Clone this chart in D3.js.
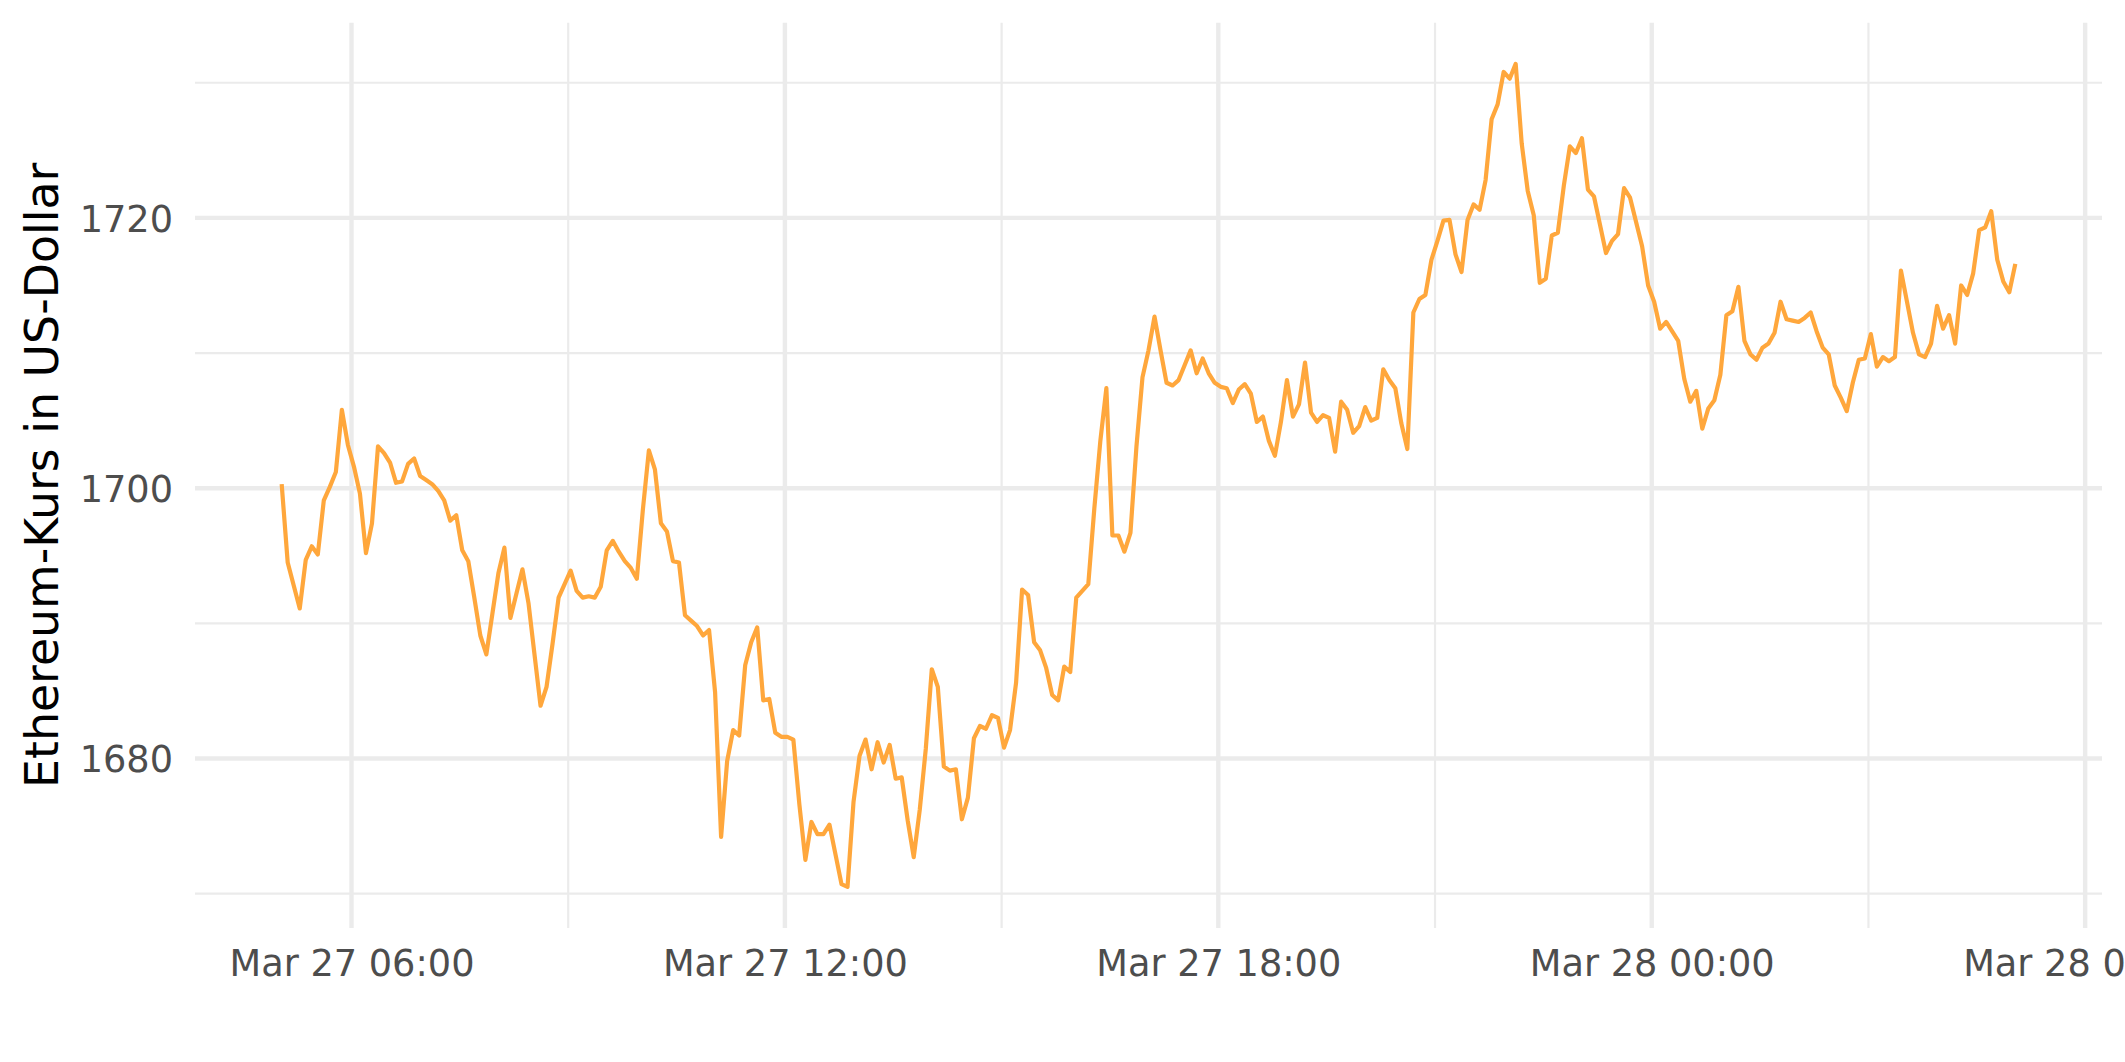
<!DOCTYPE html>
<html><head><meta charset="utf-8">
<script src="https://cdn.jsdelivr.net/npm/d3@7"></script>
<style>body{margin:0;background:#fff}svg{display:block}</style>
</head><body><svg id="chart" width="2125" height="1062"></svg>
<script>
// ---- data ----
const startTime = new Date(2023, 2, 27, 5, 2);
const intervalMinutes = 5;
const prices = [
1700.3,1694.5,1692.8,1691.1,1694.7,1695.7,1695.1,1699.1,1700.1,1701.2,
1705.8,1703.2,1701.6,1699.6,1695.2,1697.4,1703.1,1702.6,1701.9,1700.4,
1700.5,1701.8,1702.2,1700.9,1700.6,1700.3,1699.8,1699.1,1697.6,1698.0,
1695.4,1694.6,1691.9,1689.1,1687.7,1690.7,1693.7,1695.6,1690.4,1692.2,
1694.0,1691.5,1687.7,1683.9,1685.3,1688.5,1691.9,1692.9,1693.9,1692.4,
1691.9,1692.0,1691.9,1692.7,1695.4,1696.1,1695.3,1694.6,1694.1,1693.3,
1698.4,1702.8,1701.4,1697.4,1696.8,1694.6,1694.5,1690.6,1690.2,1689.8,
1689.1,1689.5,1684.9,1674.2,1679.8,1682.1,1681.7,1686.9,1688.6,1689.7,
1684.3,1684.4,1681.9,1681.6,1681.6,1681.4,1676.6,1672.5,1675.3,1674.4,
1674.4,1675.1,1672.9,1670.7,1670.5,1676.8,1680.2,1681.4,1679.2,1681.2,
1679.7,1681.0,1678.5,1678.6,1675.4,1672.7,1676.2,1680.7,1686.6,1685.3,
1679.4,1679.1,1679.2,1675.5,1677.1,1681.5,1682.4,1682.2,1683.2,1683.0,
1680.8,1682.1,1685.6,1692.5,1692.1,1688.6,1688.0,1686.7,1684.7,1684.3,
1686.8,1686.4,1691.9,1692.4,1692.9,1698.5,1703.5,1707.4,1696.5,1696.5,
1695.3,1696.7,1703.1,1708.2,1710.2,1712.7,1710.2,1707.8,1707.6,1708.0,
1709.1,1710.2,1708.5,1709.6,1708.5,1707.8,1707.5,1707.4,1706.3,1707.3,
1707.7,1707.0,1704.9,1705.3,1703.5,1702.4,1704.9,1708.0,1705.3,1706.2,
1709.3,1705.6,1704.9,1705.4,1705.2,1702.7,1706.4,1705.8,1704.1,1704.6,
1706.0,1705.0,1705.2,1708.8,1708.0,1707.4,1704.8,1702.9,1713.0,1714.0,
1714.3,1716.9,1718.3,1719.8,1719.85,1717.3,1716.0,1719.85,1721.0,1720.6,
1722.8,1727.3,1728.4,1730.8,1730.3,1731.4,1725.5,1722.0,1720.2,1715.2,
1715.5,1718.7,1718.9,1722.4,1725.3,1724.8,1725.9,1722.1,1721.6,1719.5,
1717.4,1718.3,1718.8,1722.2,1721.5,1719.7,1717.9,1715.0,1713.8,1711.8,
1712.3,1711.6,1710.9,1708.1,1706.4,1707.2,1704.4,1705.9,1706.5,1708.4,
1712.8,1713.1,1714.9,1710.9,1709.9,1709.5,1710.4,1710.7,1711.5,1713.8,
1712.5,1712.4,1712.3,1712.6,1713.0,1711.6,1710.4,1709.9,1707.6,1706.7,
1705.7,1707.8,1709.5,1709.6,1711.4,1709.0,1709.7,1709.4,1709.7,1716.1,
1713.8,1711.5,1709.9,1709.7,1710.7,1713.5,1711.8,1712.8,1710.7,1715.0,
1714.3,1715.9,1719.1,1719.3,1720.5,1716.9,1715.3,1714.5,1716.6
];
const yMajorTicks = [1680, 1700, 1720];
const yMinorTicks = [1670, 1690, 1710, 1730];
const xMajorTicks = [new Date(2023,2,27,6), new Date(2023,2,27,12), new Date(2023,2,27,18), new Date(2023,2,28,0), new Date(2023,2,28,6)];
const xMinorTicks = [new Date(2023,2,27,9), new Date(2023,2,27,15), new Date(2023,2,27,21), new Date(2023,2,28,3)];
const yTitle = "Ethereum-Kurs in US-Dollar";

// ---- layout ----
const W = 2125, H = 1062;
const panel = {left: 195, right: 2102, top: 22.7, bottom: 928};
const data = prices.map((v, i) => ({t: new Date(startTime.getTime() + i*intervalMinutes*60000), v}));

const tExt = d3.extent(data, d => d.t);
const tPad = (tExt[1] - tExt[0]) * 0.05;
const x = d3.scaleTime()
  .domain([new Date(+tExt[0] - tPad), new Date(+tExt[1] + tPad)])
  .range([panel.left, panel.right]);
const vExt = d3.extent(data, d => d.v);
const vPad = (vExt[1] - vExt[0]) * 0.05;
const y = d3.scaleLinear()
  .domain([vExt[0] - vPad, vExt[1] + vPad])
  .range([panel.bottom, panel.top]);

const svg = d3.select("#chart");
svg.append("rect").attr("width", W).attr("height", H).attr("fill", "#fff");

const grid = svg.append("g");
const gridColor = "#EBEBEB";
// minor
grid.selectAll(".yminor").data(yMinorTicks).join("line")
  .attr("x1", panel.left).attr("x2", panel.right)
  .attr("y1", d => y(d)).attr("y2", d => y(d))
  .attr("stroke", gridColor).attr("stroke-width", 2.2);
grid.selectAll(".xminor").data(xMinorTicks).join("line")
  .attr("class","xminor")
  .attr("y1", panel.top).attr("y2", panel.bottom)
  .attr("x1", d => x(d)).attr("x2", d => x(d))
  .attr("stroke", gridColor).attr("stroke-width", 2.2);
// major
grid.selectAll(".ymajor").data(yMajorTicks).join("line")
  .attr("class","ymajor")
  .attr("x1", panel.left).attr("x2", panel.right)
  .attr("y1", d => y(d)).attr("y2", d => y(d))
  .attr("stroke", gridColor).attr("stroke-width", 4.4);
grid.selectAll(".xmajor").data(xMajorTicks).join("line")
  .attr("class","xmajor")
  .attr("y1", panel.top).attr("y2", panel.bottom)
  .attr("x1", d => x(d)).attr("x2", d => x(d))
  .attr("stroke", gridColor).attr("stroke-width", 4.4);

// line
const line = d3.line().x(d => x(d.t)).y(d => y(d.v));
svg.append("path").datum(data)
  .attr("d", line)
  .attr("fill", "none")
  .attr("stroke", "#FFA73C")
  .attr("stroke-width", 4.2)
  .attr("stroke-linejoin", "round")
  .attr("stroke-linecap", "butt");

// axes (ggplot theme_minimal: no axis lines / ticks)
const fontFam = "'DejaVu Sans', sans-serif";
const yAxis = d3.axisLeft(y).tickValues(yMajorTicks).tickSize(0).tickPadding(22).tickFormat(d3.format("d"));
const gy = svg.append("g").attr("transform", `translate(${panel.left},0)`).call(yAxis);
gy.select(".domain").remove();
gy.selectAll("text").attr("font-family", fontFam).attr("font-size", 36.7).attr("fill", "#4D4D4D").attr("dy", "0.36em");

const fmt = d3.timeFormat("%b %d %H:%M");
const xAxis = d3.axisBottom(x).tickValues(xMajorTicks).tickSize(0).tickPadding(0).tickFormat(fmt);
const gx = svg.append("g").attr("transform", `translate(0,${panel.bottom})`).call(xAxis);
gx.select(".domain").remove();
gx.selectAll("text").attr("font-family", fontFam).attr("font-size", 36.7).attr("fill", "#4D4D4D")
  .attr("dy", null).attr("y", 48);

svg.append("text")
  .attr("transform", `translate(58,${(panel.top + panel.bottom)/2}) rotate(-90)`)
  .attr("text-anchor", "middle")
  .attr("font-family", fontFam).attr("font-size", 45.8).attr("fill", "#000")
  .text(yTitle);
</script></body></html>
